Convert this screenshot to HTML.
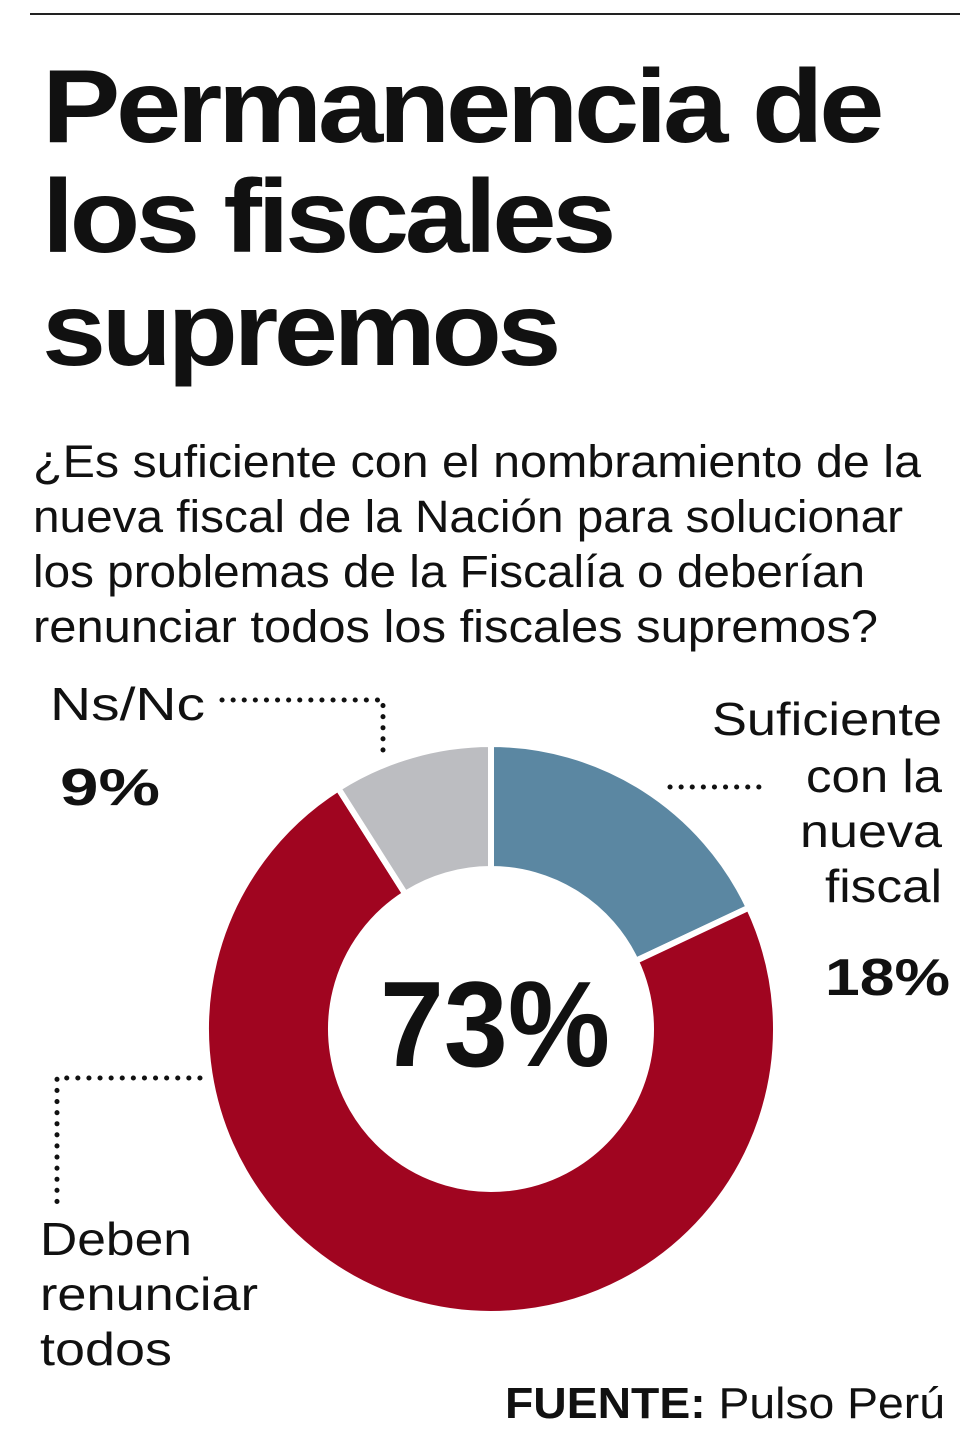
<!DOCTYPE html>
<html><head><meta charset="utf-8">
<style>
body{margin:0;background:#fff;}
svg{display:block;}
text{font-family:"Liberation Sans",sans-serif;fill:#111;}
</style></head>
<body>
<svg width="980" height="1449" viewBox="0 0 980 1449">
<line x1="30" y1="14" x2="960" y2="14" stroke="#222" stroke-width="2"/>
<g font-weight="bold" font-size="104" letter-spacing="-4">
<text x="42" y="142" textLength="838" lengthAdjust="spacingAndGlyphs">Permanencia de</text>
<text x="42" y="252" textLength="570" lengthAdjust="spacingAndGlyphs">los fiscales</text>
<text x="42" y="365" textLength="515" lengthAdjust="spacingAndGlyphs">supremos</text>
</g>
<g font-size="45">
<text x="33" y="477" textLength="888" lengthAdjust="spacingAndGlyphs">¿Es suficiente con el nombramiento de la</text>
<text x="33" y="532" textLength="870" lengthAdjust="spacingAndGlyphs">nueva fiscal de la Nación para solucionar</text>
<text x="33" y="587" textLength="832" lengthAdjust="spacingAndGlyphs">los problemas de la Fiscalía o deberían</text>
<text x="33" y="642" textLength="845" lengthAdjust="spacingAndGlyphs">renunciar todos los fiscales supremos?</text>
</g>
<g id="donut"></g>
<text x="380" y="1066" textLength="230" lengthAdjust="spacingAndGlyphs" font-size="122" font-weight="bold">73%</text>
<g fill="none" stroke="#111" stroke-width="5" stroke-dasharray="0.1 11" stroke-linecap="round">
<path d="M222 700 H383 V752"/>
<path d="M670 787 H766"/>
<path d="M200 1078 H57 V1205"/>
</g>
<g>
<text x="50" y="720" font-size="46" textLength="155" lengthAdjust="spacingAndGlyphs">Ns/Nc</text>
<text x="60" y="805" font-size="52" font-weight="bold" textLength="100" lengthAdjust="spacingAndGlyphs">9%</text>
</g>
<g font-size="46">
<text x="712" y="735" textLength="230" lengthAdjust="spacingAndGlyphs">Suficiente</text>
<text x="806" y="792" textLength="136" lengthAdjust="spacingAndGlyphs">con la</text>
<text x="800" y="847" textLength="142" lengthAdjust="spacingAndGlyphs">nueva</text>
<text x="825" y="902" textLength="117" lengthAdjust="spacingAndGlyphs">fiscal</text>
<text x="825" y="995" font-size="52" font-weight="bold" textLength="125" lengthAdjust="spacingAndGlyphs">18%</text>
</g>
<g font-size="46">
<text x="40" y="1255" textLength="152" lengthAdjust="spacingAndGlyphs">Deben</text>
<text x="40" y="1310" textLength="218" lengthAdjust="spacingAndGlyphs">renunciar</text>
<text x="40" y="1365" textLength="132" lengthAdjust="spacingAndGlyphs">todos</text>
</g>
<text x="505" y="1418" textLength="440" lengthAdjust="spacingAndGlyphs" font-size="44"><tspan font-weight="bold">FUENTE:</tspan> Pulso Perú</text>
</svg>
<script>
const categories=["Suficiente con la nueva fiscal","Deben renunciar todos","Ns/Nc"];
const values=[18,73,9];
const colors=["#5b87a2","#a00520","#bcbdc1"];
const cx=491,cy=1029,rO=285,rI=160;
const g=document.getElementById('donut');
const total=values.reduce((a,b)=>a+b,0);
function pt(a,r){return [cx+r*Math.sin(a),cy-r*Math.cos(a)];}
let acc=0;
values.forEach((v,i)=>{
  const a0=acc/total*2*Math.PI,a1=(acc+v)/total*2*Math.PI;acc+=v;
  const large=(a1-a0)>Math.PI?1:0;
  const p0=pt(a0,rO),p1=pt(a1,rO),p2=pt(a1,rI),p3=pt(a0,rI);
  const p=document.createElementNS('http://www.w3.org/2000/svg','path');
  p.setAttribute('d',`M${p0} A${rO} ${rO} 0 ${large} 1 ${p1} L${p2} A${rI} ${rI} 0 ${large} 0 ${p3} Z`);
  p.setAttribute('fill',colors[i]);
  p.setAttribute('stroke','#fff');
  p.setAttribute('stroke-width','6');
  
  
  g.appendChild(p);
});
</script>
</body></html>
